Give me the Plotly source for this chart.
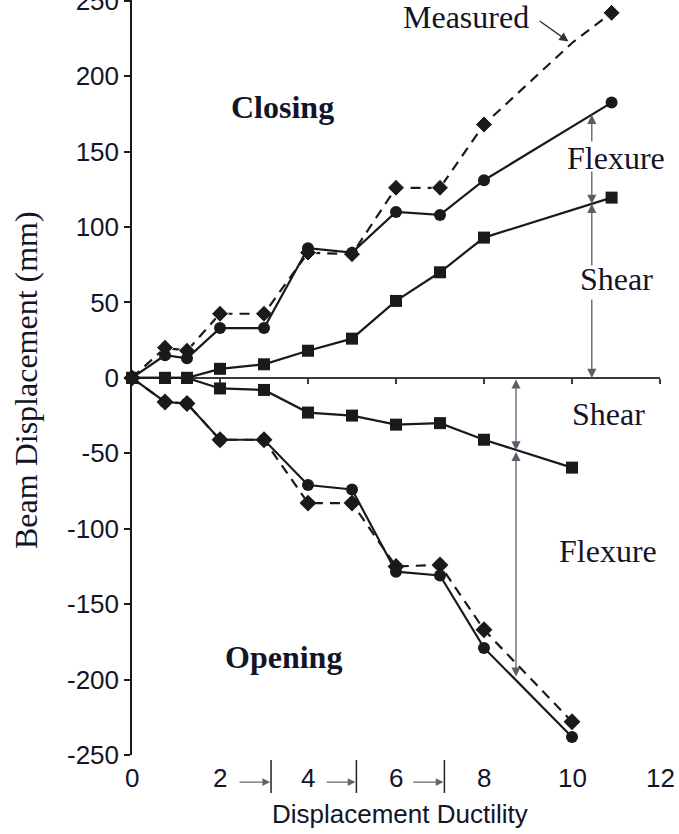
import plotly.graph_objects as go

# Displacement ductility levels (closing / opening half-cycles)
duct_close_meas = [0, 0.75, 1.25, 2, 3, 4, 5, 6, 7, 8, 10, 10.9]
duct_close = [0, 0.75, 1.25, 2, 3, 4, 5, 6, 7, 8, 10.9]
duct_open = [0, 0.75, 1.25, 2, 3, 4, 5, 6, 7, 8, 10]

# Beam displacement (mm)
meas_close = [0, 20, 18, 42.5, 42.5, 83, 82, 126, 126, 168, 222, 242]
total_close = [0, 15, 13, 33, 33, 86, 83, 110, 108, 131, 182.5]
shear_close = [0, 0, 0, 6, 9, 18, 26, 51, 70, 93, 119.5]

meas_open = [0, -16, -17, -41, -41, -83, -83, -125, -124, -167, -228]
total_open = [0, -16, -17, -41, -41, -71, -74, -128.5, -131, -179, -238]
shear_open = [0, 0, 0, -7, -8, -23, -25, -31, -30, -41, -59.5]

y_ticks = [-250, -200, -150, -100, -50, 0, 50, 100, 150, 200, 250]
x_ticks = [0, 2, 4, 6, 8, 10, 12]

INK = "#141428"
LINE = "#1a1a1a"
ARROW = "#5a5e6a"
SERIF = "Liberation Serif, Times New Roman, serif"
SANS = "Liberation Sans, Arial, sans-serif"

fig = go.Figure()


def series(x, y, symbol, size, dash="solid", sizes=None):
    fig.add_trace(go.Scatter(
        x=x, y=y, mode="lines+markers",
        line=dict(color=LINE, width=2.2, dash=dash),
        marker=dict(symbol=symbol, color=LINE, opacity=1,
                    size=sizes if sizes is not None else size),
        showlegend=False, cliponaxis=False,
    ))


meas_sizes = [13] * len(meas_close)
meas_sizes[duct_close_meas.index(10)] = 0
series(duct_close_meas, meas_close, "diamond", 13, dash="10px,7px", sizes=meas_sizes)
series(duct_open, meas_open, "diamond", 13, dash="10px,7px")
series(duct_close, total_close, "circle", 12)
series(duct_open, total_open, "circle", 12)
series(duct_close, shear_close, "square", 12)
series(duct_open, shear_open, "square", 12)

annotations = []


def label(text, x, y, bold=False):
    annotations.append(dict(
        x=x, y=y, xref="x", yref="y", text=f"<b>{text}</b>" if bold else text,
        showarrow=False, font=dict(family=SERIF, size=32, color=INK),
        xanchor="center", yanchor="middle",
    ))


def arrow(x, y_tail, y_tip, both=False):
    annotations.append(dict(
        x=x, y=y_tip, ax=x, ay=y_tail, xref="x", yref="y", axref="x", ayref="y",
        text="", showarrow=True, arrowhead=2, arrowsize=1.4, arrowwidth=1.3,
        arrowcolor=ARROW, standoff=0, startstandoff=0,
        arrowside="end+start" if both else "end", startarrowhead=2, startarrowsize=1.4,
    ))


label("Closing", 3.41, 179.5, bold=True)
label("Opening", 3.44, -185, bold=True)
label("Measured", 7.58, 239)
label("Flexure", 10.99, 146)
label("Shear", 11.02, 65.6)
label("Shear", 10.82, -24)
label("Flexure", 10.81, -114.7)

# Component arrows, closing side
arrow(10.45, 155.7, 174.4)
arrow(10.45, 137.8, 115.4)
arrow(10.45, 73.5, 115.4)
arrow(10.45, 53, 0)
# Component arrows, opening side
arrow(8.727, 0, -48.1, both=True)
arrow(8.727, -48.1, -198, both=True)

# Pointer to the measured curve
annotations.append(dict(
    x=9.92, y=223, ax=9.23, ay=237.3, xref="x", yref="y", axref="x", ayref="y",
    text="", showarrow=True, arrowhead=2, arrowsize=1.3, arrowwidth=1.4,
    arrowcolor="#333", standoff=0,
))

# Ductility labels under the plot
for v in x_ticks:
    annotations.append(dict(
        x=v, y=-0.0305, xref="x", yref="paper", text=str(v), showarrow=False,
        font=dict(family=SANS, size=26, color=INK), xanchor="center", yanchor="middle",
    ))

# Cycle-range markers beside the ductility labels
shapes = []
for x_from, x_to in [(2.41, 3.14), (4.39, 5.08), (6.36, 7.08)]:
    annotations.append(dict(
        x=x_to, y=-0.0358, ax=x_from, ay=0, xref="x", yref="paper",
        axref="x", ayref="pixel", text="", showarrow=True, arrowhead=2,
        arrowsize=1.2, arrowwidth=1.3, arrowcolor="#666", standoff=0,
    ))
    shapes.append(dict(type="line", xref="x", yref="paper", x0=x_to + 0.02, x1=x_to + 0.02,
                       y0=-0.0066, y1=-0.0503, line=dict(color="#222", width=1.5)))

# Axis titles
annotations.append(dict(
    x=(400 - 132) / 528, y=-0.078, xref="paper", yref="paper", text="Displacement Ductility",
    showarrow=False, font=dict(family=SANS, size=26, color=INK), xanchor="center", yanchor="middle",
))
annotations.append(dict(
    x=-(132 - 26) / 528, y=(755 - 380) / 755, xref="paper", yref="paper",
    text="Beam Displacement (mm)", textangle=-90, showarrow=False,
    font=dict(family=SERIF, size=32, color=INK), xanchor="center", yanchor="middle",
))

y_range = [-250, 250.5]
zero_pos = (0 - y_range[0]) / (y_range[1] - y_range[0])

fig.update_layout(
    width=679, height=834,
    margin=dict(l=132, r=19, t=0, b=79, autoexpand=False),
    paper_bgcolor="white", plot_bgcolor="white",
    showlegend=False,
    annotations=annotations,
    shapes=shapes,
    xaxis=dict(
        range=[0, 12], anchor="free", position=zero_pos,
        showline=True, linecolor="#3a3a3a", linewidth=1.5,
        tickvals=x_ticks[1:], ticks="outside", ticklen=5, tickwidth=1.5, tickcolor="#3a3a3a",
        showticklabels=False, showgrid=False, zeroline=False, layer="below traces",
        automargin=False,
    ),
    xaxis3=dict(
        range=[0, 12], overlaying="x", anchor="free", position=zero_pos,
        showline=False, tickvals=x_ticks[1:], ticks="inside", ticklen=5, tickwidth=1.5,
        tickcolor="#3a3a3a", showticklabels=False, showgrid=False, zeroline=False,
        layer="below traces", automargin=False,
    ),
    yaxis=dict(
        range=y_range, showline=True, linecolor="#1a1a1a", linewidth=1.5,
        tickvals=y_ticks, ticktext=[str(v) for v in y_ticks],
        ticks="outside", ticklen=6, tickwidth=1.5, tickcolor="#1a1a1a",
        tickfont=dict(family=SANS, size=26, color=INK), ticklabeloverflow="allow",
        showgrid=False, zeroline=False, automargin=False,
    ),
    yaxis2=dict(
        range=y_range, overlaying="y", anchor="x", side="left",
        showline=False, tickvals=y_ticks, ticks="inside", ticklen=6, tickwidth=1.5,
        tickcolor="#1a1a1a", showticklabels=False, showgrid=False, zeroline=False,
        automargin=False,
    ),
)

fig.write_html("out.html")
